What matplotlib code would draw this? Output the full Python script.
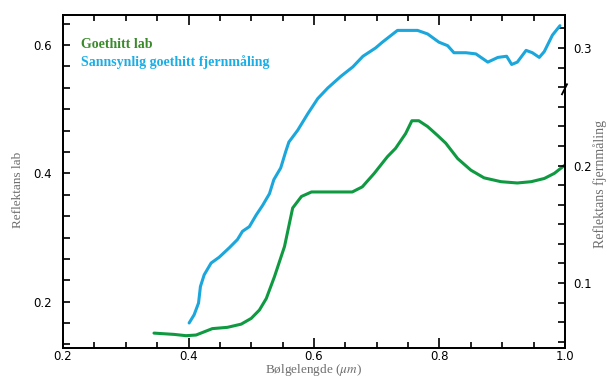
import numpy as np
import matplotlib
matplotlib.use('Agg')
import matplotlib.pyplot as plt
from matplotlib.ticker import MultipleLocator, FormatStrFormatter

plt.rcParams['mathtext.fontset'] = 'stix'

# wavelength (um) and reflectance
lab_wl = [0.345, 0.377, 0.396, 0.412, 0.425, 0.438, 0.462, 0.484, 0.500, 0.513,
          0.524, 0.537, 0.553, 0.566, 0.580, 0.596, 0.644, 0.661, 0.677, 0.696,
          0.717, 0.730, 0.746, 0.756, 0.767, 0.781, 0.797, 0.810, 0.829, 0.850,
          0.871, 0.898, 0.924, 0.946, 0.967, 0.983, 1.000]
lab_refl = [0.151, 0.149, 0.147, 0.148, 0.153, 0.158, 0.160, 0.165, 0.174, 0.187,
            0.205, 0.239, 0.286, 0.346, 0.364, 0.371, 0.371, 0.371, 0.379, 0.400,
            0.426, 0.439, 0.462, 0.482, 0.482, 0.473, 0.459, 0.447, 0.423, 0.405,
            0.393, 0.387, 0.385, 0.387, 0.392, 0.400, 0.413]

remote_wl = [0.401, 0.409, 0.416, 0.419, 0.425, 0.436, 0.449, 0.465, 0.478, 0.486,
             0.497, 0.508, 0.518, 0.529, 0.536, 0.547, 0.555, 0.560, 0.574, 0.590,
             0.606, 0.622, 0.643, 0.662, 0.678, 0.698, 0.709, 0.733, 0.765, 0.781,
             0.799, 0.813, 0.823, 0.842, 0.858, 0.877, 0.893, 0.907, 0.915, 0.924,
             0.938, 0.948, 0.959, 0.967, 0.980, 0.992]
remote_refl = [0.066, 0.073, 0.083, 0.097, 0.107, 0.117, 0.122, 0.130, 0.137, 0.144,
               0.148, 0.158, 0.166, 0.176, 0.188, 0.198, 0.212, 0.220, 0.230, 0.244,
               0.257, 0.266, 0.276, 0.284, 0.293, 0.300, 0.305, 0.315, 0.315, 0.312,
               0.305, 0.302, 0.296, 0.296, 0.295, 0.288, 0.292, 0.293, 0.286, 0.288,
               0.298, 0.296, 0.292, 0.297, 0.311, 0.319]

GREEN = '#0f9a42'
BLUE = '#1ba6dc'
GREY = '#6e6e6e'

fig = plt.figure(figsize=(6.07, 3.79), dpi=100)
ax = fig.add_axes([0.1038, 0.0818, 0.827, 0.8786])
ax2 = ax.twinx()

ax.plot(lab_wl, lab_refl, color=GREEN, lw=2.2, solid_capstyle='round', solid_joinstyle='round')
ax2.plot(remote_wl, remote_refl, color=BLUE, lw=2.2, solid_capstyle='round', solid_joinstyle='round')

ax.set_xlim(0.2, 1.0)
ax.set_ylim(0.1278, 0.6468)
ax2.set_ylim(0.0447, 0.3281)

ax.xaxis.set_major_locator(MultipleLocator(0.2))
ax.xaxis.set_minor_locator(MultipleLocator(0.05))
ax.yaxis.set_major_locator(MultipleLocator(0.2))
ax.yaxis.set_minor_locator(MultipleLocator(0.2 / 6))
ax2.yaxis.set_major_locator(MultipleLocator(0.1))
ax2.yaxis.set_minor_locator(MultipleLocator(0.1 / 6))

ax.tick_params(axis='both', which='both', direction='in', top=True, right=False,
               width=1.2, colors='black')
ax.tick_params(axis='x', which='major', length=7, pad=1.5)
ax.tick_params(axis='x', which='minor', length=4)
ax.tick_params(axis='y', which='both', length=5, pad=8)
ax2.tick_params(axis='y', which='both', direction='in', length=5, width=1.2, pad=6)
for lab in ax.get_xticklabels() + ax.get_yticklabels() + ax2.get_yticklabels():
    lab.set_fontfamily('DejaVu Sans')
    lab.set_fontsize(8.5)
ax.xaxis.set_major_formatter(FormatStrFormatter('%.1f'))
ax.yaxis.set_major_formatter(FormatStrFormatter('%.1f'))
ax2.yaxis.set_major_formatter(FormatStrFormatter('%.1f'))

for a in (ax, ax2):
    for s in a.spines.values():
        s.set_linewidth(1.3)

serif = 'Liberation Serif'
# axis titles placed by hand so they stay inside the small canvas
fig.text(0.517, 0.002, r'Bølgelengde ($\mu m$)', family=serif, size=9.5, color=GREY,
         ha='center', va='bottom')
fig.text(0.03, 0.5, 'Reflektans lab', family=serif, size=9.5, color=GREY,
         rotation=90, ha='center', va='center')
fig.text(0.988, 0.515, 'Reflektans fjernmåling', family=serif, size=10, color=GREY,
         rotation=90, ha='center', va='center')

ax.text(0.035, 0.91, 'Goethitt lab', transform=ax.transAxes, family=serif,
        weight='bold', size=10, color='#3a8a2c', va='center')
ax.text(0.035, 0.86, 'Sannsynlig goethitt fjernmåling', transform=ax.transAxes,
        family=serif, weight='bold', size=10, color='#1aaee6', va='center')

# axis break mark on the right spine
ax2.plot([0.994, 1.004], [0.762, 0.792], transform=ax2.transAxes, color='black',
         lw=1.3, clip_on=False)

fig.savefig('out.png', dpi=100)
